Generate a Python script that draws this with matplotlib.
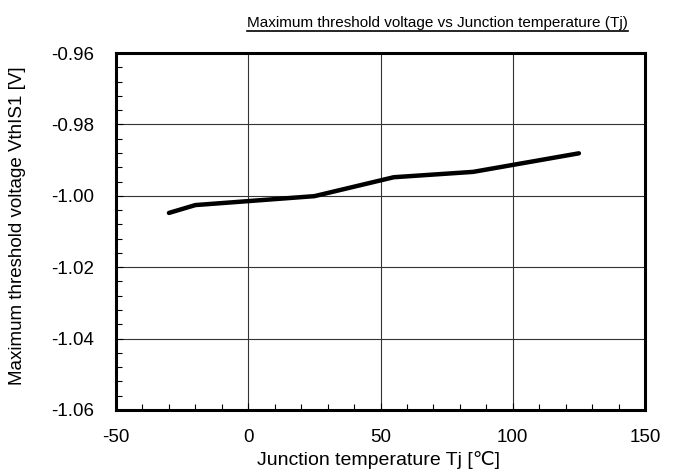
import matplotlib
matplotlib.use('Agg')
import matplotlib.pyplot as plt
from matplotlib import font_manager
from matplotlib.ticker import MultipleLocator
from matplotlib.lines import Line2D

plt.rcParams['font.family'] = ['Liberation Sans', 'DejaVu Sans']
plt.rcParams['axes.unicode_minus'] = False

# data
tj = [-30, -20, 25, 55, 85, 125]
vth = [-1.0048, -1.0026, -1.0001, -0.9948, -0.9933, -0.9881]

title = 'Maximum threshold voltage vs Junction temperature (Tj)'
xlabel = 'Junction temperature Tj [\u2103]'
ylabel = 'Maximum threshold voltage VthIS1 [V]'

fig = plt.figure(figsize=(6.75, 4.72), dpi=100)
ax = fig.add_axes([0.1719, 0.1314, 0.7837, 0.7563])

ax.plot(tj, vth, color='black', linewidth=3.2, solid_capstyle='round', solid_joinstyle='round', zorder=3)

ax.set_xlim(-50, 150)
ax.set_ylim(-1.06, -0.96)
ax.xaxis.set_major_locator(MultipleLocator(50))
ax.xaxis.set_minor_locator(MultipleLocator(10))
ax.yaxis.set_major_locator(MultipleLocator(0.02))
ax.yaxis.set_minor_locator(MultipleLocator(0.004))
ax.yaxis.set_major_formatter(plt.FormatStrFormatter('%.2f'))
ax.grid(True, which='major', color='#333333', linewidth=0.8)
ax.tick_params(which='both', direction='in', labelsize=13.5, color='black')
ax.tick_params(which='major', length=5, width=0.8)
ax.tick_params(which='minor', length=4, width=0.8)
ax.tick_params(axis='x', which='major', pad=14)
ax.tick_params(axis='y', which='major', pad=16)
for s in ax.spines.values():
    s.set_linewidth(2.2)

fig.text(378 / 675, 1 - 465 / 472, xlabel, fontsize=14, ha='center', va='baseline')
fig.text(18 / 675, 0.5 + (236 - 226) / 472, ylabel, fontsize=13.5, rotation=90,
         ha='center', va='center')

# underlined title, narrow face if there is one
names = {f.name for f in font_manager.fontManager.ttflist}
if 'Liberation Sans Narrow' in names:
    tfam, tsize = ['Liberation Sans Narrow', 'DejaVu Sans'], 13.2
else:
    tfam, tsize = ['Liberation Sans', 'DejaVu Sans'], 11
t = fig.text(0.648, 1 - 27 / 472, title, fontsize=tsize, family=tfam, ha='center', va='baseline')
fig.canvas.draw()
bb = t.get_window_extent().transformed(fig.transFigure.inverted())
uy = 1 - 30.5 / 472
fig.add_artist(Line2D([bb.x0, bb.x1], [uy, uy], transform=fig.transFigure,
                      color='black', linewidth=1.2))

fig.savefig('out.png', dpi=100)
